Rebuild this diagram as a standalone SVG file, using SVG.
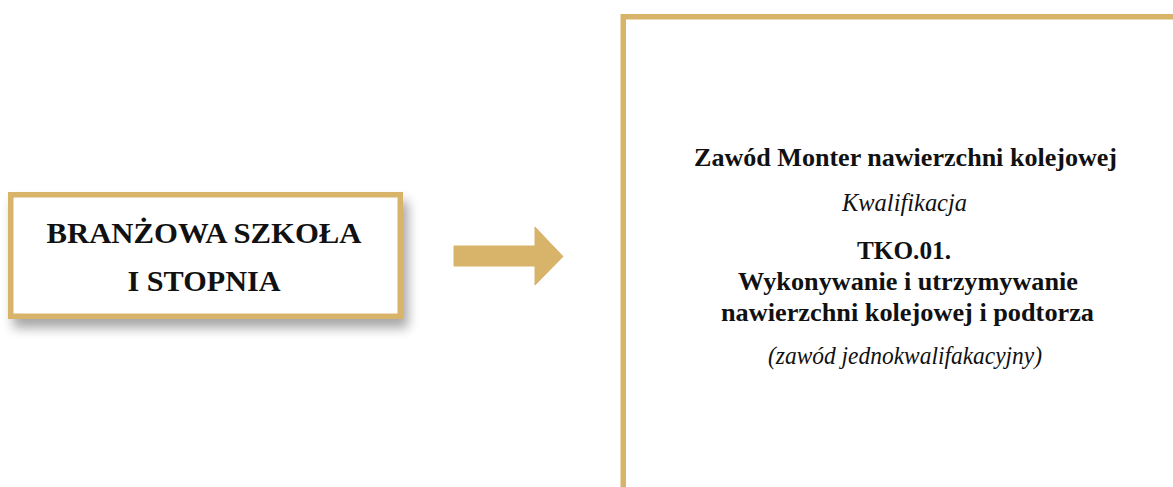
<svg xmlns="http://www.w3.org/2000/svg" width="1173" height="487" viewBox="0 0 1173 487">
  <style>
    .frame { fill: #ffffff; stroke: #D7B46A; stroke-width: 5.5; }
    .b { font-family: "Liberation Serif", "Times New Roman", serif; font-weight: bold; fill: #111111; text-anchor: middle; }
    .i { font-family: "Liberation Serif", "Times New Roman", serif; font-style: italic; fill: #111111; text-anchor: middle; }
  </style>
  <defs>
    <filter id="shadow" x="-10%" y="-20%" width="130%" height="170%">
      <feGaussianBlur in="SourceAlpha" stdDeviation="6"/>
      <feOffset dx="5" dy="9" result="o"/>
      <feComponentTransfer><feFuncA type="linear" slope="0.35"/></feComponentTransfer>
      <feMerge><feMergeNode/><feMergeNode in="SourceGraphic"/></feMerge>
    </filter>
  </defs>
  <rect width="1173" height="487" fill="#ffffff"/>
  <g id="node-szkola">
    <rect class="frame" x="10.75" y="194.75" width="389.5" height="121.5" filter="url(#shadow)"/>
    <text class="b" x="204" y="243" font-size="30" textLength="315" lengthAdjust="spacingAndGlyphs">BRANŻOWA SZKOŁA</text>
    <text class="b" x="204" y="291" font-size="30" textLength="153" lengthAdjust="spacingAndGlyphs">I STOPNIA</text>
  </g>
  <g id="connectors">
    <polygon points="454,246 535,246 535,227 563,256.5 535,285 535,266 454,266" fill="#D7B46A" stroke="#D7B46A" stroke-width="1" stroke-linejoin="round"/>
  </g>
  <g id="node-zawod">
    <rect class="frame" x="623.25" y="16.75" width="600" height="520"/>
    <text class="b" x="905.5" y="166" font-size="26" textLength="423" lengthAdjust="spacingAndGlyphs">Zawód Monter nawierzchni kolejowej</text>
    <text class="i" x="904.5" y="211" font-size="25" textLength="125" lengthAdjust="spacingAndGlyphs">Kwalifikacja</text>
    <text class="b" x="904" y="259" font-size="26" textLength="94" lengthAdjust="spacingAndGlyphs">TKO.01.</text>
    <text class="b" x="908" y="290" font-size="26" textLength="340" lengthAdjust="spacingAndGlyphs">Wykonywanie i utrzymywanie</text>
    <text class="b" x="907.5" y="321" font-size="26" textLength="373" lengthAdjust="spacingAndGlyphs">nawierzchni kolejowej i podtorza</text>
    <text class="i" x="905" y="364" font-size="25" textLength="274" lengthAdjust="spacingAndGlyphs">(zawód jednokwalifakacyjny)</text>
  </g>
</svg>
